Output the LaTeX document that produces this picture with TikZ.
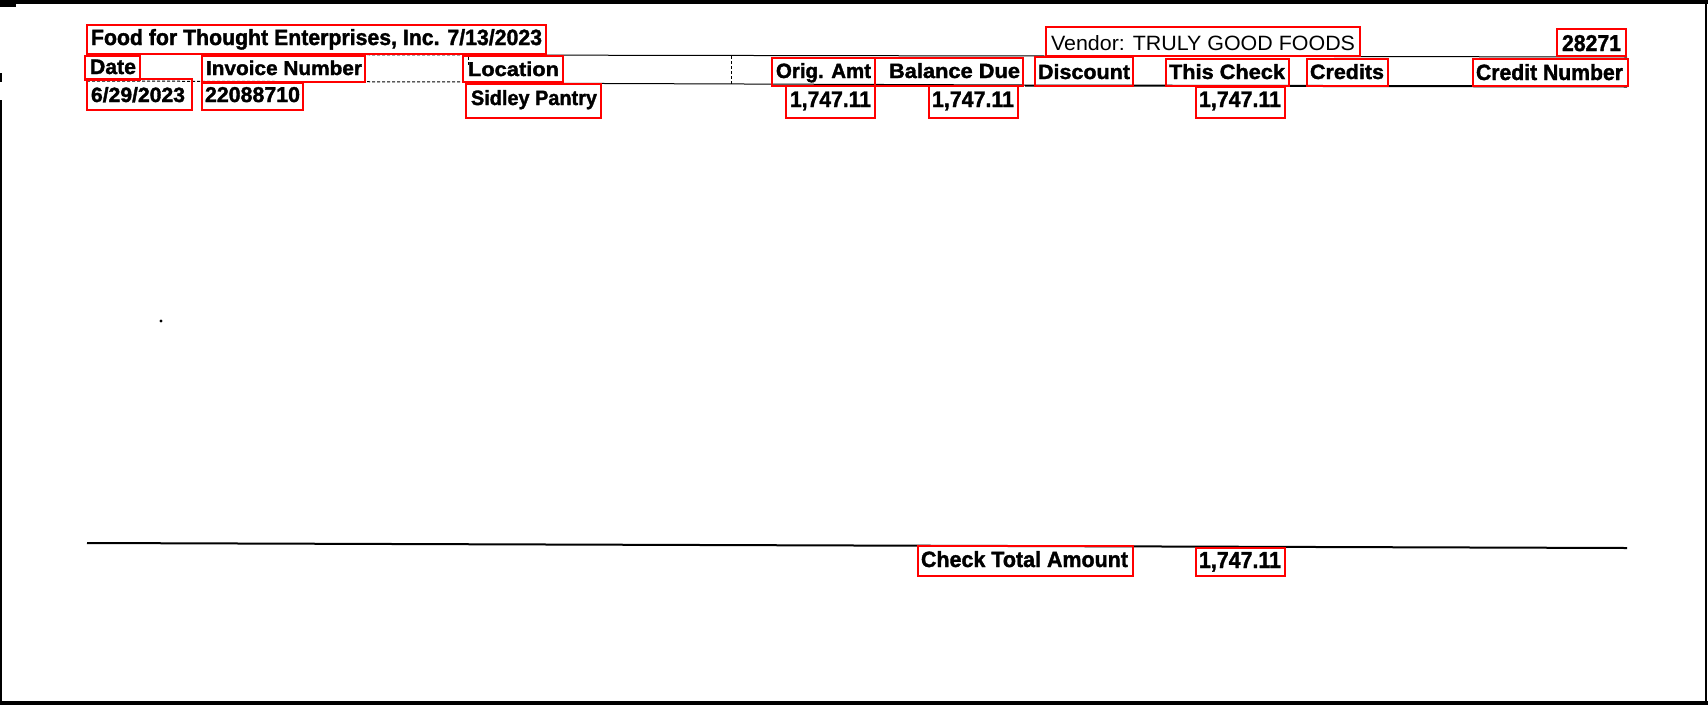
\documentclass[tikz,border=0pt]{standalone}
\usepackage{fontspec}
\setmainfont{Liberation Sans}[BoldFeatures={FakeBold=1.6}]
\usepackage{graphicx}
\newcommand\fitT[3]{\resizebox{#1pt}{#2pt}{#3}}
\tikzset{
  txt/.style={inner sep=0pt, outer sep=0pt, anchor=base west, font=\bfseries},
  txtreg/.style={inner sep=0pt, outer sep=0pt, anchor=base west},
  redbox/.style={draw=red, line width=2.8pt},
  rule/.style={draw=black, line width=1pt},
  thickrule/.style={draw=black, line width=2pt},
  dotrule/.style={draw=black, line width=1pt, dash pattern=on 3pt off 2pt},
}
\begin{document}
\begin{tikzpicture}[x=1pt,y=-1pt]
\useasboundingbox (0,0) rectangle (1708,705);
% page frame
\fill[black] (0,0) rectangle (1708,3.5);
\fill[black] (0,0) rectangle (16,7);
\fill[black] (0,700.5) rectangle (1708,705);
\fill[black] (0,100) rectangle (1.6,705);
\fill[black] (0,73) rectangle (1.6,82);
\fill[black] (1704.5,0) rectangle (1706.5,705);
\fill[black] (161,321) circle (1.6);

% rules
\draw[dotrule] (87,54) -- (466,55);
\draw[rule] (466,55) -- (1627,57);
\draw[dotrule] (87,81) -- (466,82);
\draw[rule] (466,83) -- (1025,85);
\draw[thickrule] (1025,85.5) -- (1627,86.5);
\draw[dotrule] (731,56) -- (731,84);
\draw[dotrule] (468,57) -- (468,66);
\draw[thickrule] (87,543) -- (1627,548);

% red boxes
\draw[redbox] (87,25) rectangle (546,54);
\draw[redbox] (1046,27) rectangle (1360,56);
\draw[redbox] (1557,29) rectangle (1626,56);
\draw[redbox] (85,56) rectangle (140,80);
\draw[redbox] (202,56) rectangle (365,82);
\draw[redbox] (463,56) rectangle (563,82);
\draw[redbox] (772,58) rectangle (875,86);
\draw[redbox] (875,58) rectangle (1023,86);
\draw[redbox] (1035,57) rectangle (1133,86);
\draw[redbox] (1166,59) rectangle (1289,86);
\draw[redbox] (1307,59) rectangle (1388,86);
\draw[redbox] (1473,59) rectangle (1628,86);
\draw[redbox] (87,79) rectangle (192,110);
\draw[redbox] (202,83) rectangle (303,110);
\draw[redbox] (466,84) rectangle (601,118);
\draw[redbox] (786,86) rectangle (875,118);
\draw[redbox] (929,86) rectangle (1018,118);
\draw[redbox] (1196,87) rectangle (1285,118);
\draw[redbox] (918,546) rectangle (1133,576);
\draw[redbox] (1196,548) rectangle (1285,576);

% texts
\node[txt] (food) at (91,45) {\fitT{451}{16}{Food for Thought Enterprises, Inc. 7/13/2023}};
\node[txtreg] (vendor) at (1051,50) {\fitT{304}{15}{Vendor: TRULY GOOD FOODS}};
\node[txt] (checkno) at (1562,51) {\fitT{59}{16}{28271}};
\node[txt] (hdate) at (90,74) {\fitT{46}{14.5}{Date}};
\node[txt] (hinv) at (206,75) {\fitT{156}{14.5}{Invoice Number}};
\node[txt] (hloc) at (468,76) {\fitT{91}{14.5}{Location}};
\node[txt] (horig) at (776,78) {\fitT{95}{15}{Orig. Amt}};
\node[txt] (hbal) at (889,78) {\fitT{131}{15}{Balance Due}};
\node[txt] (hdisc) at (1038,79) {\fitT{92}{15}{Discount}};
\node[txt] (hthis) at (1169,79) {\fitT{116}{15}{This Check}};
\node[txt] (hcred) at (1310,79) {\fitT{74}{15}{Credits}};
\node[txt] (hcrednum) at (1476,80) {\fitT{147}{16}{Credit Number}};
\node[txt] (vdate) at (91,102) {\fitT{94}{15}{6/29/2023}};
\node[txt] (vinv) at (205,102) {\fitT{95}{15}{22088710}};
\node[txt] (vloc) at (471,105) {\fitT{126}{15}{Sidley Pantry}};
\node[txt] (vorig) at (790,107) {\fitT{81}{15.5}{1,747.11}};
\node[txt] (vbal) at (932,107) {\fitT{82}{15.5}{1,747.11}};
\node[txt] (vthis) at (1199,107) {\fitT{82}{15.5}{1,747.11}};
\node[txt] (tlabel) at (921,567) {\fitT{207}{16}{Check Total Amount}};
\node[txt] (tval) at (1199,568) {\fitT{82}{16}{1,747.11}};
\end{tikzpicture}
\end{document}
